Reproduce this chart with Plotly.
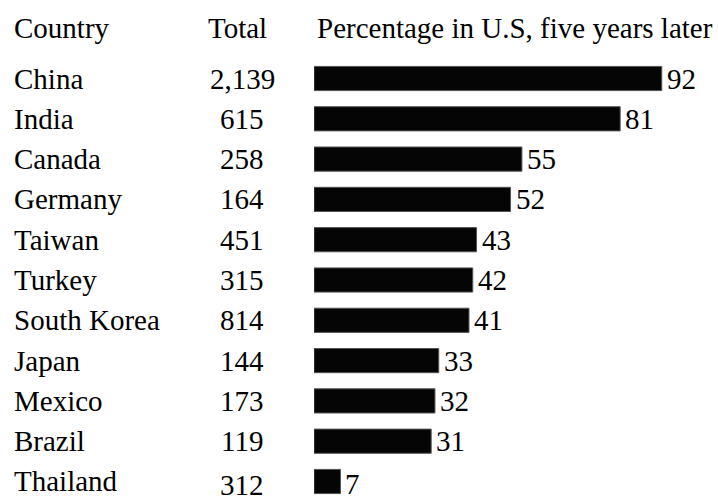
import plotly.graph_objects as go

countries = ["China", "India", "Canada", "Germany", "Taiwan", "Turkey",
             "South Korea", "Japan", "Mexico", "Brazil", "Thailand"]
totals = ["2,139", "615", "258", "164", "451", "315", "814", "144", "173", "119", "312"]
percent = [92, 81, 55, 52, 43, 42, 41, 33, 32, 31, 7]

header_country = "Country"
header_total = "Total"
header_pct = "Percentage in U.S, five years later"

W, H = 718, 500
FONT = "Liberation Serif"
FS = 29
x0_px = 314
px_per_unit = 3.78
row_top = 78.5
row_step = 40.3

fig = go.Figure()
fig.add_trace(go.Bar(
    x=percent, y=list(range(len(countries))), orientation="h",
    marker=dict(color="#050505", line=dict(color="#555555", width=1)),
    width=0.6, hoverinfo="skip",
))

ann = []
last = len(countries) - 1
for i, (c, t, p) in enumerate(zip(countries, totals, percent)):
    ann.append(dict(x=12 / W, xref="paper", y=i, yref="y", text=c,
                    xanchor="left", yanchor="middle", showarrow=False,
                    yshift=(1 if i == last else 0),
                    font=dict(family=FONT, size=FS, color="black")))
    ann.append(dict(x=242 / W, xref="paper", y=i, yref="y", text=t,
                    xanchor="center", yanchor="middle", showarrow=False,
                    yshift=(-3 if i == last else 0),
                    font=dict(family=FONT, size=FS, color="black")))
    ann.append(dict(x=p, xref="x", y=i, yref="y", text=str(p),
                    xanchor="left", yanchor="middle", showarrow=False, xshift=3,
                    yshift=(-2 if i == last else 0),
                    font=dict(family=FONT, size=FS, color="black")))

for txt, xp, anchor in [(header_country, 12, "left"), (header_total, 237, "center"),
                        (header_pct, 315, "left")]:
    ann.append(dict(x=xp / W, xref="paper", y=1 - 28 / H, yref="paper", text=txt,
                    xanchor=anchor, yanchor="middle", showarrow=False,
                    font=dict(family=FONT, size=FS, color="black")))

x_range = (W - x0_px) / px_per_unit
r_top = -row_top / row_step
r_bot = r_top + H / row_step

fig.update_layout(
    width=W, height=H, margin=dict(l=0, r=0, t=0, b=0),
    paper_bgcolor="white", plot_bgcolor="white", showlegend=False,
    font=dict(family=FONT),
    xaxis=dict(domain=[x0_px / W, 1], range=[0, x_range], visible=False, fixedrange=True),
    yaxis=dict(range=[r_bot, r_top], visible=False, fixedrange=True),
    annotations=ann,
)

fig.write_html("out.html", config={"displayModeBar": False},
               post_script="document.body.style.margin='0';document.body.style.padding='0';document.body.style.overflow='hidden';")
